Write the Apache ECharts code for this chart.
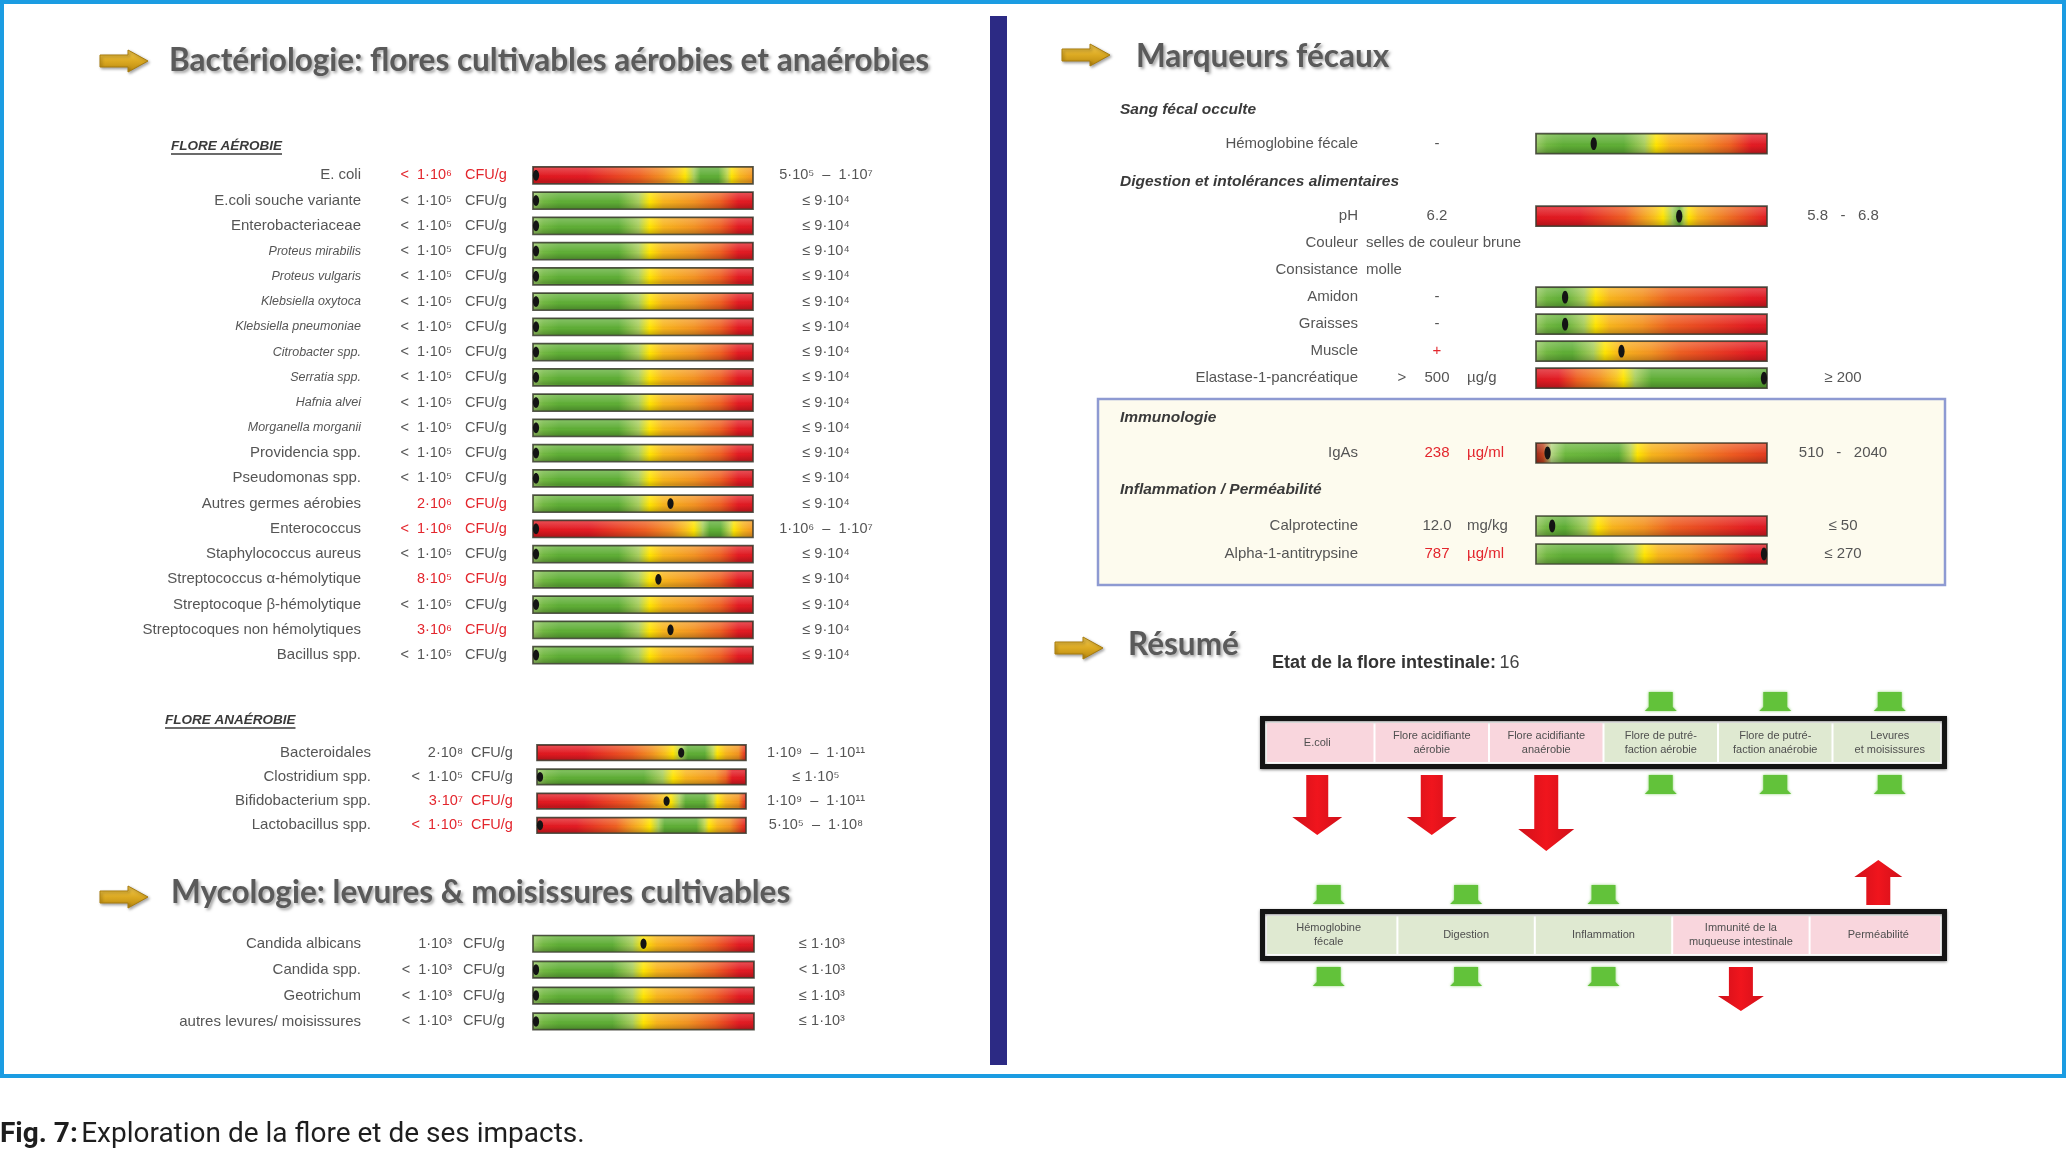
<!DOCTYPE html>
<html><head><meta charset="utf-8">
<script src="https://cdn.jsdelivr.net/npm/echarts@6/dist/echarts.min.js"></script>
<style>html,body{margin:0;padding:0;background:#fff}#c{width:2067px;height:1149px}</style>
</head><body><div id="c"></div>
<script>
// ================= DATA =================
// Flore aérobie
const aerobeNames = ['E. coli','E.coli souche variante','Enterobacteriaceae','Proteus mirabilis','Proteus vulgaris','Klebsiella oxytoca','Klebsiella pneumoniae','Citrobacter spp.','Serratia spp.','Hafnia alvei','Morganella morganii','Providencia spp.','Pseudomonas spp.','Autres germes aérobies','Enterococcus','Staphylococcus aureus','Streptococcus α-hémolytique','Streptocoque β-hémolytique','Streptocoques non hémolytiques','Bacillus spp.'];
const aerobeValues = ['<  1·10⁶','<  1·10⁵','<  1·10⁵','<  1·10⁵','<  1·10⁵','<  1·10⁵','<  1·10⁵','<  1·10⁵','<  1·10⁵','<  1·10⁵','<  1·10⁵','<  1·10⁵','<  1·10⁵','2·10⁶','<  1·10⁶','<  1·10⁵','8·10⁵','<  1·10⁵','3·10⁶','<  1·10⁵'];
const aerobeAbnormal = [1,0,0,0,0,0,0,0,0,0,0,0,0,1,1,0,1,0,1,0];
const aerobeMarkers = [0,0,0,0,0,0,0,0,0,0,0,0,0,0.625,0,0,0.57,0,0.625,0];
const aerobeRefs = ['5·10⁵  –  1·10⁷','≤ 9·10⁴','≤ 9·10⁴','≤ 9·10⁴','≤ 9·10⁴','≤ 9·10⁴','≤ 9·10⁴','≤ 9·10⁴','≤ 9·10⁴','≤ 9·10⁴','≤ 9·10⁴','≤ 9·10⁴','≤ 9·10⁴','≤ 9·10⁴','1·10⁶  –  1·10⁷','≤ 9·10⁴','≤ 9·10⁴','≤ 9·10⁴','≤ 9·10⁴','≤ 9·10⁴'];
const aerobeScales = [['range',0.69,0.9],['max',0.53],['max',0.53],['max',0.53],['max',0.53],['max',0.53],['max',0.53],['max',0.53],['max',0.53],['max',0.53],['max',0.53],['max',0.53],['max',0.53],['max',0.53],['range',0.73,0.91],['max',0.53],['max',0.53],['max',0.53],['max',0.53],['max',0.53]];
const aerobeUnit = 'CFU/g';

// Flore anaérobie
const anaerobeNames = ['Bacteroidales','Clostridium spp.','Bifidobacterium spp.','Lactobacillus spp.'];
const anaerobeValues = ['2·10⁸','<  1·10⁵','3·10⁷','<  1·10⁵'];
const anaerobeAbnormal = [0,0,1,1];
const anaerobeMarkers = [0.69,0,0.62,0];
const anaerobeRefs = ['1·10⁹  –  1·10¹¹','≤ 1·10⁵','1·10⁹  –  1·10¹¹','5·10⁵  –  1·10⁸'];
const anaerobeScales = [['range',0.65,0.86],['max',0.65],['range',0.64,0.86],['range',0.54,0.82]];
const anaerobeUnit = 'CFU/g';

// Mycologie
const mycoNames = ['Candida albicans','Candida spp.','Geotrichum','autres levures/ moisissures'];
const mycoValues = ['1·10³','<  1·10³','<  1·10³','<  1·10³'];
const mycoAbnormal = [0,0,0,0];
const mycoMarkers = [0.5,0,0,0];
const mycoRefs = ['≤ 1·10³','< 1·10³','≤ 1·10³','≤ 1·10³'];
const mycoScales = [['max',0.5],['max',0.5],['max',0.5],['max',0.5]];
const mycoUnit = 'CFU/g';

// Marqueurs fécaux – sang fécal occulte
const sangNames = ['Hémoglobine fécale'];
const sangPrefix = [''];
const sangValues = ['-'];
const sangUnits = [''];
const sangAbnormal = [0];
const sangMarkers = [0.25];
const sangRefs = [''];
const sangScales = [['max',0.52]];

// Digestion et intolérances alimentaires
const digestNames = ['pH','Couleur','Consistance','Amidon','Graisses','Muscle','Elastase-1-pancréatique'];
const digestPrefix = ['','','','','','','>'];
const digestValues = ['6.2','selles de couleur brune','molle','-','-','+','500'];
const digestUnits = ['','','','','','','µg/g'];
const digestAbnormal = [0,0,0,0,0,1,0];
const digestMarkers = [0.62,null,null,0.126,0.126,0.37,1];
const digestRefs = ['5.8   -   6.8','','','','','','≥ 200'];
const digestScales = [['range',0.55,0.66],null,null,['max',0.26],['max',0.26],['max',0.3],['min',0.38]];

// Immunologie
const immunoNames = ['IgAs'];
const immunoPrefix = [''];
const immunoValues = ['238'];
const immunoUnits = ['µg/ml'];
const immunoAbnormal = [1];
const immunoMarkers = [0.05];
const immunoRefs = ['510   -   2040'];
const immunoScales = [['range',0.07,0.44]];

// Inflammation / Perméabilité
const inflamNames = ['Calprotectine','Alpha-1-antitrypsine'];
const inflamPrefix = ['',''];
const inflamValues = ['12.0','787'];
const inflamUnits = ['mg/kg','µg/ml'];
const inflamAbnormal = [0,1];
const inflamMarkers = [0.07,1];
const inflamRefs = ['≤ 50','≤ 270'];
const inflamScales = [['max',0.27],['max',0.47]];

// Résumé
const floreScore = '16';
const topCells = ['E.coli','Flore acidifiante\naérobie','Flore acidifiante\nanaérobie','Flore de putré-\nfaction aérobie','Flore de putré-\nfaction anaérobie','Levures\net moisissures'];
const topStatus = ['low','low','low','ok','ok','ok'];
const topStrength = [1,1,2,0,0,0];
const bottomCells = ['Hémoglobine\nfécale','Digestion','Inflammation','Immunité de la\nmuqueuse intestinale','Perméabilité'];
const bottomStatus = ['ok','ok','ok','low','high'];
const bottomStrength = [0,0,0,1,1];

// ================= STYLE =================
const FONT = "'Liberation Sans', Arial, 'DejaVu Sans', sans-serif";
const TITLE_FONT = "Lato, 'Open Sans', sans-serif";
const TXT = '#555555', RED_TXT = '#e3262d';
const C = {red:'#e31b23', orange:'#f39322', yellow:'#ffe400', green:'#5fae36', green2:'#6db93e', dred:'#9b2417'};

function gradientFor(sc){
  let s;
  if (sc[0] === 'max') {
    const a = sc[1];
    s = [[0,'#9dcb6a'],[0.05,'#72b842'],[0.12,C.green],[a-0.14,C.green],[a-0.05,'#a9ce5e'],[a,C.yellow],[a+0.06,'#f8b51c'],[a+0.2,C.orange],[Math.min(a+0.32,0.9),'#ee6021'],[0.93,C.red],[1,'#dc1a22']];
  } else if (sc[0] === 'min') {
    const a = sc[1];
    s = [[0,'#dc1a22'],[0.1,C.red],[a-0.2,'#ee6021'],[a-0.1,C.orange],[a-0.03,'#f8c41c'],[a,C.yellow],[a+0.05,'#a9ce5e'],[a+0.12,C.green],[0.9,C.green],[1,'#58a832']];
  } else {
    const lo = sc[1], hi = sc[2];
    if (lo < 0.15) {
      s = [[0,C.dred],[lo*0.5,'#c0451f'],[lo,'#b5d683'],[lo+0.06,C.green2],[hi-0.08,C.green],[hi-0.03,'#b8d253'],[hi,C.yellow],[hi+0.06,'#f8b51c'],[hi+0.2,C.orange],[0.85,'#ee5a21'],[1,'#e33a1e']];
    } else {
      s = [[0,'#e0181f'],[lo*0.35,C.red],[lo*0.7,'#ef5f21'],[lo-0.1,C.orange],[lo-0.035,'#f9c21c'],[lo,C.yellow],[lo+0.04,'#a9ce5e'],[lo+0.07,C.green],[hi-0.06,C.green],[hi-0.02,'#c0d650'],[hi,C.yellow],[hi+0.04,'#f8b51c'],[Math.min(1,hi+0.1),C.orange],[1, hi+0.1 < 0.97 ? C.red : '#f08a20']];
    }
  }
  s = s.map(([o,c]) => [Math.max(0, Math.min(1, o)), c]);
  for (let k = 1; k < s.length; k++) if (s[k][0] < s[k-1][0]) s[k][0] = s[k-1][0];
  return {type:'linear', x:0, y:0, x2:1, y2:0, colorStops: s.map(([o,c]) => ({offset:o, color:c}))};
}
const GLOSS = {type:'linear', x:0, y:0, x2:0, y2:1, colorStops:[
  {offset:0,color:'rgba(255,255,255,0.22)'},{offset:0.45,color:'rgba(255,255,255,0.05)'},
  {offset:0.6,color:'rgba(0,0,0,0)'},{offset:1,color:'rgba(0,0,0,0.2)'}]};

function txt(x, y, text, opt){
  return {type:'text', style: Object.assign({x, y, text, fill:TXT, fontSize:14, fontFamily:FONT, align:'left', verticalAlign:'middle'}, opt||{})};
}

function barAndMarker(ch, x0, x1, cy, h, sc, m, api, i){
  ch.push({type:'rect', shape:{x:x0, y:cy-h/2, width:x1-x0, height:h}, style:{fill:gradientFor(sc), stroke:'rgba(55,58,45,0.85)', lineWidth:1.7}});
  ch.push({type:'rect', shape:{x:x0+1, y:cy-h/2+1, width:x1-x0-2, height:h-2}, style:{fill:GLOSS}});
  let mx = api.coord([m, i])[0];
  mx = Math.max(x0+3, Math.min(x1-3, mx));
  ch.push({type:'ellipse', shape:{cx:mx, cy:cy, rx:3.1, ry:h*0.32}, style:{fill:'#141414'}});
}

// Left panel row renderer
function leftRenderer(d, g){
  return function(params, api){
    const i = api.value(1);
    const p0 = api.coord([0, i]), p1 = api.coord([1, i]);
    const x0 = p0[0], x1 = p1[0], cy = p0[1];
    const col = d.abnormal[i] ? RED_TXT : TXT;
    const ch = [];
    ch.push(txt(x0 - g.numOff, cy, d.values[i], {fill:col, align:'right', fontSize:14.5}));
    ch.push(txt(x0 - g.unitOff, cy, d.unit, {fill:col, fontSize:14.5}));
    ch.push(txt(x1 + g.refOff, cy, d.refs[i], {align:'center', fontSize:14.5}));
    barAndMarker(ch, x0, x1, cy, g.barH, d.scales[i], d.markers[i], api, i);
    return {type:'group', children:ch};
  };
}

// Right panel row renderer
function rightRenderer(d, g){
  return function(params, api){
    const i = api.value(1);
    const p0 = api.coord([0, i]), p1 = api.coord([1, i]);
    const x0 = p0[0], x1 = p1[0], cy = p0[1];
    const col = d.abnormal[i] ? RED_TXT : TXT;
    const ch = [];
    const sc = d.scales[i];
    if (!sc) {
      ch.push(txt(x0 - g.labelMargin + 8, cy, d.values[i], {fontSize:15}));
    } else {
      if (d.prefix[i]) ch.push(txt(x0 - 134, cy, d.prefix[i], {align:'center', fontSize:15}));
      ch.push(txt(x0 - 99, cy, d.values[i], {fill:col, align:'center', fontSize:15}));
      if (d.units[i]) ch.push(txt(x0 - 69, cy, d.units[i], {fill:col, fontSize:15}));
      if (d.refs[i]) ch.push(txt(x1 + 76, cy, d.refs[i], {align:'center', fontSize:15}));
      barAndMarker(ch, x0, x1, cy, g.barH, sc, d.markers[i], api, i);
    }
    return {type:'group', children:ch};
  };
}

// ================= BUILD OPTION =================
const grids = [], xAxes = [], yAxes = [], series = [];
function addSection(names, g, renderer, labelFmt){
  const idx = grids.length;
  grids.push({left:g.left, top:g.top, width:g.width, height:g.rowH*names.length, containLabel:false, outerBoundsMode:'none'});
  xAxes.push({gridIndex:idx, type:'value', min:0, max:1, show:false});
  yAxes.push({gridIndex:idx, type:'category', data:names, inverse:true,
    axisLine:{show:false}, axisTick:{show:false}, splitLine:{show:false},
    axisLabel:{show:true, interval:0, margin:g.labelMargin, color:TXT, fontSize:g.labelSize||14, fontFamily:FONT,
      formatter: labelFmt || (v => v),
      rich:{n:{fontSize:g.labelSize||14, color:TXT, fontFamily:FONT}, s:{fontSize:12.5, color:TXT, fontStyle:'italic', fontFamily:FONT}}}});
  series.push({type:'custom', xAxisIndex:idx, yAxisIndex:idx, clip:false, silent:true,
    data: names.map((_, i) => [0, i]), encode:{x:0, y:1}, renderItem: renderer});
}

const italicRows = [3,4,5,6,7,8,9,10];
const gA = {left:533, width:220, top:162.7, rowH:25.25, barH:17, labelMargin:172, numOff:81, unitOff:68, refOff:73, labelSize:15};
addSection(aerobeNames, gA, leftRenderer({values:aerobeValues, abnormal:aerobeAbnormal, markers:aerobeMarkers, refs:aerobeRefs, scales:aerobeScales, unit:aerobeUnit}, gA),
  (v, i) => italicRows.indexOf(i) >= 0 ? '{s|' + v + '}' : '{n|' + v + '}');
const gB = {left:537, width:209, top:740.6, rowH:24.2, barH:15.5, labelMargin:166, numOff:74, unitOff:66, refOff:70, labelSize:15};
addSection(anaerobeNames, gB, leftRenderer({values:anaerobeValues, abnormal:anaerobeAbnormal, markers:anaerobeMarkers, refs:anaerobeRefs, scales:anaerobeScales, unit:anaerobeUnit}, gB));
const gM = {left:533, width:221, top:930.8, rowH:25.9, barH:16.5, labelMargin:172, numOff:81, unitOff:70, refOff:68, labelSize:15};
addSection(mycoNames, gM, leftRenderer({values:mycoValues, abnormal:mycoAbnormal, markers:mycoMarkers, refs:mycoRefs, scales:mycoScales, unit:mycoUnit}, gM));

const rightBase = {left:1536, width:231, barH:20, labelMargin:178, labelSize:15};
const gS = Object.assign({}, rightBase, {top:130.7, rowH:26});
addSection(sangNames, gS, rightRenderer({prefix:sangPrefix, values:sangValues, units:sangUnits, abnormal:sangAbnormal, markers:sangMarkers, refs:sangRefs, scales:sangScales}, gS));
const gD = Object.assign({}, rightBase, {top:202.7, rowH:27});
addSection(digestNames, gD, rightRenderer({prefix:digestPrefix, values:digestValues, units:digestUnits, abnormal:digestAbnormal, markers:digestMarkers, refs:digestRefs, scales:digestScales}, gD));
const gI = Object.assign({}, rightBase, {top:439.5, rowH:27});
addSection(immunoNames, gI, rightRenderer({prefix:immunoPrefix, values:immunoValues, units:immunoUnits, abnormal:immunoAbnormal, markers:immunoMarkers, refs:immunoRefs, scales:immunoScales}, gI));
const gF = Object.assign({}, rightBase, {top:512, rowH:28});
addSection(inflamNames, gF, rightRenderer({prefix:inflamPrefix, values:inflamValues, units:inflamUnits, abnormal:inflamAbnormal, markers:inflamMarkers, refs:inflamRefs, scales:inflamScales}, gF));

// Résumé boxes
const RED_ARROW = {type:'linear', x:0, y:0, x2:1, y2:0, colorStops:[{offset:0,color:'#d0101a'},{offset:0.5,color:'#f0151d'},{offset:1,color:'#d0101a'}]};
function redDown(cx, y0, shaft, head, sw, hw){
  return {type:'polygon', shape:{points:[[cx-sw/2,y0],[cx+sw/2,y0],[cx+sw/2,y0+shaft],[cx+hw/2,y0+shaft],[cx,y0+shaft+head],[cx-hw/2,y0+shaft],[cx-sw/2,y0+shaft]]}, style:{fill:RED_ARROW}};
}
function redUp(cx, yb, shaft, head, sw, hw){
  return {type:'polygon', shape:{points:[[cx-sw/2,yb],[cx+sw/2,yb],[cx+sw/2,yb-shaft],[cx+hw/2,yb-shaft],[cx,yb-shaft-head],[cx-hw/2,yb-shaft],[cx-sw/2,yb-shaft]]}, style:{fill:RED_ARROW}};
}
function greenStub(cx, y, h){
  return {type:'polygon', shape:{points:[[cx-12,y],[cx+12,y],[cx+12,y+h-4],[cx+16,y+h],[cx-16,y+h],[cx-12,y+h-4]]},
    style:{fill:'#62c23a', shadowBlur:3, shadowColor:'rgba(90,190,50,0.7)'}};
}
function resumeRenderer(cells, status, strength, geo){
  return function(params, api){
    const i = api.value(0);
    const cs = params.coordSys;
    const bw = api.size([1, 0])[0];
    const cx = api.coord([i, 0.5])[0];
    const top = cs.y, bot = cs.y + cs.height;
    const ch = [];
    if (i === 0) ch.push({type:'rect', shape:{x:cs.x+2.5, y:top+2.5, width:cs.width-5, height:cs.height-5},
      style:{fill:'#fff', stroke:'#141414', lineWidth:5, shadowBlur:3, shadowColor:'rgba(0,0,0,0.45)', shadowOffsetY:1}});
    const pad = 7;
    const a = Math.max(cx - bw/2 + 1, cs.x + pad), b = Math.min(cx + bw/2 - 1, cs.x + cs.width - pad);
    ch.push({type:'rect', shape:{x:a, y:top+pad, width:b-a, height:cs.height-2*pad}, style:{fill: status[i] === 'ok' ? '#dfe9d1' : '#f9d6dd'}});
    ch.push({type:'text', style:{x:cx, y:(top+bot)/2, text:cells[i], align:'center', verticalAlign:'middle', fontSize:11, lineHeight:14, fill:'#4f4f4f', fontFamily:FONT}});
    if (status[i] === 'ok') {
      ch.push(greenStub(cx, top - 5 - 19, 19));
      ch.push(greenStub(cx, bot + 6, 19));
    } else if (status[i] === 'low') {
      const L = geo.down[strength[i]];
      ch.push(redDown(cx, bot + 6, L[0], L[1], L[2], L[3]));
    } else {
      const U = geo.up;
      ch.push(redUp(cx, top - 4, U[0], U[1], U[2], U[3]));
    }
    return {type:'group', children:ch};
  };
}
function addResume(cells, status, strength, box, geo){
  const idx = grids.length;
  grids.push({left:box.left, top:box.top, width:box.width, height:box.height, containLabel:false, outerBoundsMode:'none'});
  xAxes.push({gridIndex:idx, type:'category', data:cells, show:false});
  yAxes.push({gridIndex:idx, type:'value', min:0, max:1, show:false});
  series.push({type:'custom', xAxisIndex:idx, yAxisIndex:idx, clip:false, silent:true,
    data: cells.map((_, i) => [i, 0.5]), encode:{x:0, y:1}, renderItem: resumeRenderer(cells, status, strength, geo)});
}
addResume(topCells, topStatus, topStrength, {left:1260, top:716, width:687, height:53},
  {down:{1:[42,18,22,50], 2:[54,22,24,56]}});
addResume(bottomCells, bottomStatus, bottomStrength, {left:1260, top:909, width:687, height:52},
  {down:{1:[29,15,24,46]}, up:[28,17,24,48]});

// ================= DECORATION =================
const measureCtx = document.createElement('canvas').getContext('2d');
function textWidth(t, font){ measureCtx.font = font; return measureCtx.measureText(t).width; }

function goldArrow(x, cy){
  return {type:'polygon', shape:{points:[[x,cy-6],[x+28,cy-6],[x+28,cy-11],[x+48,cy],[x+28,cy+11],[x+28,cy+6],[x,cy+6]]},
    style:{fill:{type:'linear',x:0,y:0,x2:0,y2:1,colorStops:[{offset:0,color:'#f2cb55'},{offset:0.5,color:'#dcaa22'},{offset:1,color:'#b7860e'}]},
      stroke:'#a87c0e', lineWidth:1, shadowBlur:3, shadowColor:'rgba(0,0,0,0.35)', shadowOffsetX:1.5, shadowOffsetY:1.5}};
}
function title(x, y, t){
  return {type:'text', style:{x, y, text:t, fill:'#5a5a5a', fontSize:31.5, fontWeight:'bold', fontFamily:TITLE_FONT, verticalAlign:'middle',
    textShadowColor:'rgba(0,0,0,0.35)', textShadowBlur:3, textShadowOffsetX:2, textShadowOffsetY:2}};
}
function subhead(x, y, t, underline, size){
  const fs = size || 13.5;
  const f = 'italic bold ' + fs + 'px ' + FONT;
  const els = [{type:'text', style:{x, y, text:t, fill:'#3a3a3a', fontSize:fs, fontWeight:'bold', fontStyle:'italic', fontFamily:FONT, verticalAlign:'middle'}}];
  if (underline) {
    const w = textWidth(t, f);
    els.push({type:'line', shape:{x1:x, y1:y+8, x2:x+w, y2:y+8}, style:{stroke:'#3a3a3a', lineWidth:1.3}});
  }
  return els;
}

const graphics = [
  {type:'rect', shape:{x:2, y:2, width:2062, height:1074}, style:{fill:'none', stroke:'#1b9ce2', lineWidth:4}},
  {type:'rect', shape:{x:990, y:16, width:17, height:1049}, style:{fill:'#2c2a84'}},
  {type:'rect', shape:{x:1098, y:399, width:847, height:186}, style:{fill:'#fdfbee', stroke:'#8e9ad2', lineWidth:2.5}, z:-10},
  goldArrow(100, 61), title(169, 61, 'Bactériologie: flores cultivables aérobies et anaérobies'),
  goldArrow(100, 897), title(171, 893, 'Mycologie: levures & moisissures cultivables'),
  goldArrow(1062, 55), title(1136, 57, 'Marqueurs fécaux'),
  goldArrow(1055, 648), title(1128, 645, 'Résumé'),
  ...subhead(171, 146, 'FLORE AÉROBIE', true),
  ...subhead(165, 720, 'FLORE ANAÉROBIE', true),
  ...subhead(1120, 110, 'Sang fécal occulte', false, 15.5),
  ...subhead(1120, 182, 'Digestion et intolérances alimentaires', false, 15.5),
  ...subhead(1120, 418, 'Immunologie', false, 15.5),
  ...subhead(1120, 490, 'Inflammation / Perméabilité', false, 15.5),
  {type:'text', style:{x:1272, y:663, text:'{b|Etat de la flore intestinale:} {r|' + floreScore + '}', verticalAlign:'middle',
    rich:{b:{fontSize:18, fontWeight:'bold', fill:'#333', fontFamily:FONT}, r:{fontSize:18, fill:'#444', fontFamily:FONT}}}},
  {type:'text', style:{x:0, y:1135, text:'{b|Fig. 7:} {r|Exploration de la flore et de ses impacts.}', verticalAlign:'middle',
    rich:{b:{fontSize:28, fontWeight:'bold', fill:'#1e1e1e', fontFamily:'Roboto, sans-serif'}, r:{fontSize:28, fill:'#1e1e1e', fontFamily:'Roboto, sans-serif'}}}}
];

const chart = echarts.init(document.getElementById('c'), null, {renderer:'canvas'});
chart.setOption({
  animation:false,
  backgroundColor:'#ffffff',
  grid:grids, xAxis:xAxes, yAxis:yAxes, series:series,
  graphic:{elements:graphics}
});
</script>
</body></html>
